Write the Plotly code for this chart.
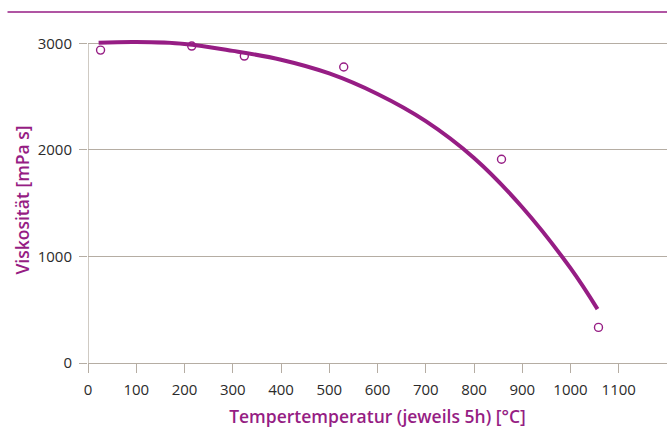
import plotly.graph_objects as go

# Measured viscosity after 5 h tempering at each temperature
temp_c = [26, 215, 324, 530, 857, 1058]
viscosity = [2937, 2975, 2881, 2778, 1912, 334]

# Trend curve through the measurements
trend_temp = [22, 100, 200, 300, 400, 500, 600, 700, 800, 900, 1000, 1056]
trend_visc = [3006, 3012, 2995, 2930, 2847, 2718, 2525, 2270, 1924, 1462, 890, 506]

x_ticks = [0, 100, 200, 300, 400, 500, 600, 700, 800, 900, 1000, 1100]
y_ticks = [0, 1000, 2000, 3000]

PURPLE = "#961d84"
GRID = "#b5ada3"
FONT = "Open Sans"

fig = go.Figure()
fig.add_trace(go.Scatter(
    x=trend_temp, y=trend_visc, mode="lines",
    line=dict(color=PURPLE, width=4, shape="spline", smoothing=1.0),
    hoverinfo="skip", showlegend=False,
))
fig.add_trace(go.Scatter(
    x=temp_c, y=viscosity, mode="markers",
    marker=dict(symbol="circle-open", size=8, color=PURPLE, line=dict(width=1.4, color=PURPLE)),
    showlegend=False, cliponaxis=False,
))

fig.update_layout(
    width=667, height=439,
    margin=dict(l=88, r=0, t=37, b=76),
    plot_bgcolor="white", paper_bgcolor="white",
    font=dict(family=FONT, size=15, color="#2b2b2b"),
    xaxis=dict(
        range=[0, 1200], tickvals=x_ticks, ticktext=[str(v) for v in x_ticks],
        showgrid=False, zeroline=False,
        showline=True, linecolor=GRID, linewidth=1.3,
        ticks="outside", ticklen=9, tickwidth=1.3, tickcolor=GRID,
        ticklabelstandoff=4,
        title=dict(text="Tempertemperatur (jeweils 5h) [°C]", standoff=12,
                   font=dict(family=FONT, size=17.5, color=PURPLE, weight=600)),
    ),
    yaxis=dict(
        range=[0, 3060], tickvals=y_ticks, ticktext=[str(v) for v in y_ticks],
        showgrid=True, gridcolor=GRID, gridwidth=1.3, zeroline=False,
        showline=False,
        ticks="outside", ticklen=8, tickwidth=1.3, tickcolor=GRID,
        ticklabelstandoff=4,
        title=dict(text="Viskosität [mPa s]", standoff=3,
                   font=dict(family=FONT, size=17.5, color=PURPLE, weight=600)),
    ),
    shapes=[
        # vertical axis line from 0 up to the top gridline
        dict(type="line", xref="x", yref="y", x0=0, x1=0, y0=0, y1=3000,
             line=dict(color=GRID, width=1.3), layer="below"),
        # header rule above the chart
        dict(type="line", xref="paper", yref="paper", x0=-0.139, x1=1.0, y0=1.0767, y1=1.0767,
             line=dict(color=PURPLE, width=1.5)),
    ],
)

fig.write_html("out.html")
